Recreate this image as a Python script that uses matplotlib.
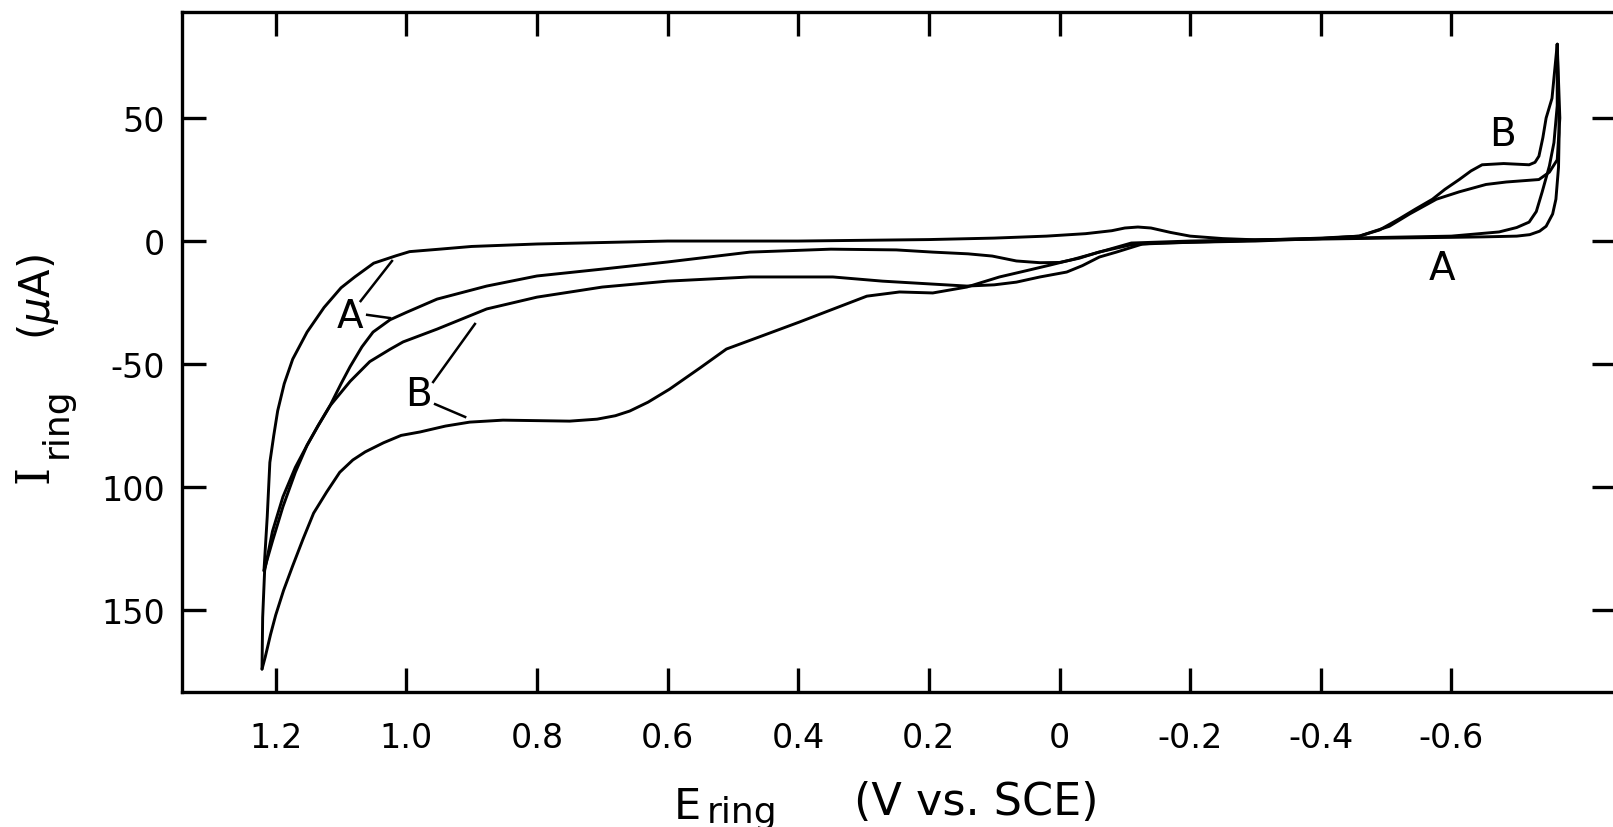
import numpy as np
import matplotlib
matplotlib.use("Agg")
import matplotlib.pyplot as plt

plt.rcParams['font.family'] = ['DejaVu Sans']
plt.rcParams['mathtext.fontset'] = 'dejavusans'

# ---- data (E in V vs. SCE, I in uA) ----
# loop A: outer sweep and inner sweep
a_outer_E = [1.218, 1.213, 1.209, 1.203, 1.197, 1.187, 1.174, 1.152, 1.126, 1.100,
             1.079, 1.050, 1.016, 0.995, 0.949, 0.900, 0.800, 0.700, 0.600,
             0.500, 0.400, 0.300, 0.200, 0.100, 0.020, -0.040, -0.080, -0.100, -0.120,
             -0.140, -0.170, -0.200, -0.250, -0.300, -0.400, -0.500, -0.600, -0.650,
             -0.700, -0.720, -0.735, -0.745, -0.755, -0.760, -0.764, -0.765, -0.762]
a_outer_I = [-134, -112, -90, -79, -69, -58, -48, -37, -27, -19,
             -14.6, -9, -6, -4.3, -3.3, -2.2, -1.2, -0.6, 0,
             0, 0, 0.3, 0.6, 1.2, 2, 3, 4.2, 5.3, 5.7,
             5.3, 3.5, 2, 1, 0.5, 0.8, 1.2, 1.5, 1.7,
             2, 2.6, 4, 6, 11, 17, 30, 44, 80]

a_inner_E = [1.218, 1.205, 1.189, 1.170, 1.152, 1.135, 1.117, 1.100, 1.086, 1.068,
             1.051, 1.025, 1.000, 0.953, 0.877, 0.800, 0.700, 0.600, 0.474, 0.350,
             0.250, 0.194, 0.140, 0.103, 0.066, 0.030, 0.000, -0.030, -0.060, -0.110,
             -0.150, -0.200, -0.300, -0.400, -0.500, -0.600, -0.673, -0.700, -0.719,
             -0.730, -0.739, -0.750, -0.757, -0.762, -0.762]
a_inner_I = [-134, -122, -108, -94, -83, -75, -67, -58, -51, -43,
             -37, -32, -29, -23.6, -18.3, -14.2, -11.4, -8.5, -4.5, -3.3,
             -3.6, -4.5, -5.2, -6.1, -8.1, -8.8, -8.7, -7, -4.5, -1.5,
             -0.8, -0.5, 0, 1, 1.5, 2, 3.7, 5.5, 7.7,
             12, 20, 30.5, 40, 55, 80]

# loop B: upper sweep and lower sweep
b_upper_E = [1.221, 1.220, 1.217, 1.205, 1.189, 1.170, 1.152, 1.135, 1.117, 1.086,
             1.056, 1.025, 1.005, 0.953, 0.877, 0.800, 0.700, 0.600, 0.474, 0.347,
             0.271, 0.194, 0.142, 0.100, 0.066, 0.030, -0.011, -0.035, -0.061, -0.087,
             -0.127, -0.200, -0.300, -0.400, -0.459, -0.490, -0.520, -0.545, -0.571,
             -0.590, -0.612, -0.630, -0.647, -0.680, -0.719, -0.728, -0.734, -0.740,
             -0.745, -0.754, -0.762]
b_upper_I = [-174, -153, -134, -118, -104, -92, -83, -75, -67, -57,
             -49, -44, -41, -35.8, -27.6, -22.8, -18.7, -16.3, -14.6, -14.6,
             -16.3, -17.5, -18.3, -17.8, -16.7, -14.6, -12.6, -10, -6.5, -4.5,
             -1.2, -0.5, 0.3, 1.2, 2, 4.5, 9, 13, 17,
             21, 25, 28.5, 31, 31.5, 31, 32, 34.5, 42,
             50, 58, 80]

b_lower_E = [1.221, 1.216, 1.208, 1.200, 1.188, 1.174, 1.158, 1.142, 1.122, 1.102,
             1.082, 1.063, 1.035, 1.008, 0.979, 0.940, 0.903, 0.852, 0.800, 0.750,
             0.708, 0.680, 0.658, 0.630, 0.597, 0.550, 0.510, 0.460, 0.398, 0.350,
             0.295, 0.245, 0.194, 0.142, 0.092, 0.050, 0.015, -0.020, -0.061, -0.110,
             -0.200, -0.300, -0.400, -0.459, -0.505, -0.536, -0.577, -0.612, -0.653,
             -0.684, -0.734, -0.750, -0.762, -0.766, -0.762]
b_lower_I = [-174, -169, -160, -152, -142, -132, -121, -110.6, -102, -94,
             -89, -85.7, -82, -79, -77.6, -75.2, -73.6, -72.8, -73, -73.2,
             -72.4, -71, -69.1, -65.5, -60.2, -51.5, -43.9, -39, -32.9, -28,
             -22.4, -20.7, -21.1, -18.7, -14.6, -12, -9.8, -7.5, -4.5, -0.8,
             0, 0.5, 1, 2, 6, 11, 17, 20, 23,
             24, 25, 28, 33, 50, 80]

x_ticks = [1.2, 1.0, 0.8, 0.6, 0.4, 0.2, 0.0, -0.2, -0.4, -0.6]
x_tick_labels = ['1.2', '1.0', '0.8', '0.6', '0.4', '0.2', '0', '-0.2', '-0.4', '-0.6']
y_ticks = [50, 0, -50, -100, -150]
y_tick_labels = ['50', '0', '-50', '100', '150']

# curve labels: (text, x, y) and leader lines
curve_labels = [('A', 1.086, -30.5), ('B', 0.982, -62.2),
                 ('B', -0.678, 43.5), ('A', -0.586, -11.0)]
leaders = [((1.070, -24.4), (1.022, -8.1)),
           ((1.060, -30.0), (1.025, -31.3)),
           ((0.959, -57.3), (0.895, -33.7)),
           ((0.956, -66.3), (0.910, -71.5))]

# ---- figure ----
W, H = 1613, 828
fig = plt.figure(figsize=(W / 100, H / 100), dpi=100)
ax = fig.add_axes([182 / W, 135 / H, 1434 / W, 680 / H])

lw = 2.1
for E, I in [(a_outer_E, a_outer_I), (a_inner_E, a_inner_I),
             (b_upper_E, b_upper_I), (b_lower_E, b_lower_I)]:
    ax.plot(E, I, color='black', linewidth=lw, solid_joinstyle='round',
            solid_capstyle='round')

for (x0, y0), (x1, y1) in leaders:
    ax.plot([x0, x1], [y0, y1], color='black', linewidth=1.8)

for txt, x, y in curve_labels:
    ax.text(x, y, txt, fontsize=28, ha='center', va='center')

ax.set_xlim(1.3435, -0.852)
ax.set_ylim(-183.3, 93.1)

ax.set_xticks(x_ticks)
ax.set_xticklabels(x_tick_labels)
ax.set_yticks(y_ticks)
ax.set_yticklabels(y_tick_labels)
ax.tick_params(direction='in', length=17, width=2.4, labelsize=24,
               top=True, right=True, pad=12)
ax.tick_params(axis='x', pad=21)
for s in ax.spines.values():
    s.set_linewidth(2.4)

# x axis label: E, subscript ring, units
fig.text(674 / W, (H - 819) / H, 'E', fontsize=31, ha='left', va='baseline')
fig.text(707 / W, (H - 823) / H, 'ring', fontsize=26, ha='left', va='baseline')
fig.text(854 / W, (H - 815) / H, '(V vs. SCE)', fontsize=32,
         ha='left', va='baseline')

# y axis label: I, subscript ring, units (rotated)
fig.text(48 / W, (H - 483) / H, 'I', fontsize=33, family='DejaVu Serif',
         rotation=90, rotation_mode='anchor', ha='left', va='baseline')
fig.text(67 / W, (H - 458) / H, 'ring', fontsize=26,
         rotation=90, rotation_mode='anchor', ha='left', va='baseline')
fig.text(50 / W, (H - 340) / H, r'($\mu$A)', fontsize=30,
         rotation=90, rotation_mode='anchor', ha='left', va='baseline')

fig.savefig('out.png', dpi=100)
